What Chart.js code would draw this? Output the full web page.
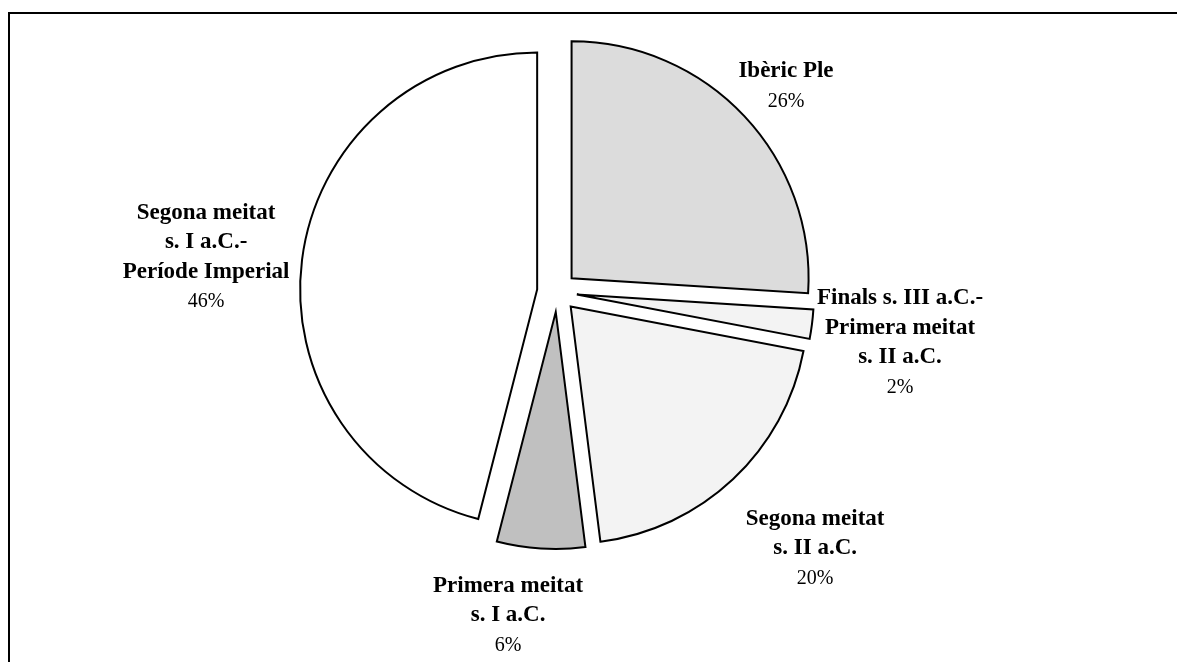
<!DOCTYPE html>
<html>
<head>
<meta charset="utf-8">
<title>Distribució per períodes</title>
<script src="https://cdn.jsdelivr.net/npm/chart.js@4.4.1/dist/chart.umd.min.js"></script>
<style>
    html, body {
        margin: 0;
        padding: 0;
        background: #ffffff;
    }
    .pie-wrap {
        position: relative;
        width: 1177px;
        height: 662px;
        overflow: hidden;
    }
    .pie-frame {
        position: absolute;
        left: 8px;
        top: 12px;
        right: -10px;
        bottom: -10px;
        border-left: 2px solid #000;
        border-top: 2px solid #000;
        pointer-events: none;
    }
</style>
</head>
<body>
<div class="pie-wrap">
    <canvas id="pieChart"></canvas>
    <div class="pie-frame"></div>
</div>
<script>
// Categories, one entry per slice (lines of the label)
const categories = [
    ['Ibèric Ple'],
    ['Finals s. III a.C.-', 'Primera meitat', 's. II a.C.'],
    ['Segona meitat', 's. II a.C.'],
    ['Primera meitat', 's. I a.C.'],
    ['Segona meitat', 's. I a.C.-', 'Període Imperial']
];

// Share of each period (%)
const values = [26, 2, 20, 6, 46];

// Slice fills
const sliceColors = ['#dcdcdc', '#f3f3f3', '#f3f3f3', '#c0c0c0', '#ffffff'];

(function() {
    'use strict';

    const fontFamily = '"Liberation Serif", "Times New Roman", serif';
    const explode = 20; // px each slice is pulled out

    // Label placement: distance from pie centre (in radii) and angle nudge (deg)
    const labelPlacement = [
        { dist: 1.30, turn: 1.2 },
        { dist: 1.463, turn: 1.2 },
        { dist: 1.535, turn: -2.0 },
        { dist: 1.38, turn: 5.0 },
        { dist: 1.488, turn: -1.5 }
    ];

    /**
     * Pull every slice out by the same distance.
     * (the built-in offset option also grows thin slices, so move them here)
     */
    const explodeSlices = {
        id: 'explodeSlices',
        beforeDatasetDraw(chart, args) {
            const ctx = chart.ctx;
            args.meta.data.forEach(function(arc) {
                const mid = (arc.startAngle + arc.endAngle) / 2;
                ctx.save();
                ctx.translate(Math.cos(mid) * explode, Math.sin(mid) * explode);
                arc.draw(ctx);
                ctx.restore();
            });
            return false;
        }
    };

    /**
     * Draws the category name (bold) and the percentage under it
     */
    const outsideLabels = {
        id: 'outsideLabels',
        afterDatasetsDraw(chart) {
            const ctx = chart.ctx;
            const meta = chart.getDatasetMeta(0);
            const total = values.reduce(function(a, b) { return a + b; }, 0);
            const lineH = 29.5;

            meta.data.forEach(function(arc, i) {
                const p = arc.getProps(['x', 'y', 'startAngle', 'endAngle', 'outerRadius'], true);
                const mid = (p.startAngle + p.endAngle) / 2 + labelPlacement[i].turn * Math.PI / 180;
                const d = p.outerRadius * labelPlacement[i].dist;
                const cx = p.x + Math.cos(mid) * d;
                const cy = p.y + Math.sin(mid) * d;

                const lines = categories[i].slice();
                const pct = Math.round(values[i] / total * 100) + '%';
                const n = lines.length + 1;
                let y = cy - (n - 1) * lineH / 2;

                ctx.save();
                ctx.fillStyle = '#000';
                ctx.textAlign = 'center';
                ctx.textBaseline = 'middle';
                ctx.font = 'bold 23px ' + fontFamily;
                lines.forEach(function(t) {
                    ctx.fillText(t, cx, y);
                    y += lineH;
                });
                ctx.font = '20px ' + fontFamily;
                ctx.fillText(pct, cx, y + 1);
                ctx.restore();
            });
        }
    };

    function initializeChart() {
        const canvas = document.getElementById('pieChart');
        const ctx = canvas.getContext('2d');

        new Chart(ctx, {
            type: 'pie',
            data: {
                labels: categories.map(function(c) { return c.join(' '); }),
                datasets: [{
                    data: values,
                    backgroundColor: sliceColors,
                    borderColor: '#000000',
                    borderWidth: 2,
                    borderJoinStyle: 'miter',
                    offset: 0,
                    hoverOffset: 0,
                    radius: 237
                }]
            },
            options: {
                responsive: true,
                maintainAspectRatio: false,
                animation: false,
                devicePixelRatio: 1,
                layout: {
                    padding: { left: 0, right: 63, top: 0, bottom: 78 }
                },
                plugins: {
                    legend: { display: false },
                    tooltip: { enabled: false }
                }
            },
            plugins: [explodeSlices, outsideLabels]
        });
    }

    initializeChart();
})();
</script>
</body>
</html>
